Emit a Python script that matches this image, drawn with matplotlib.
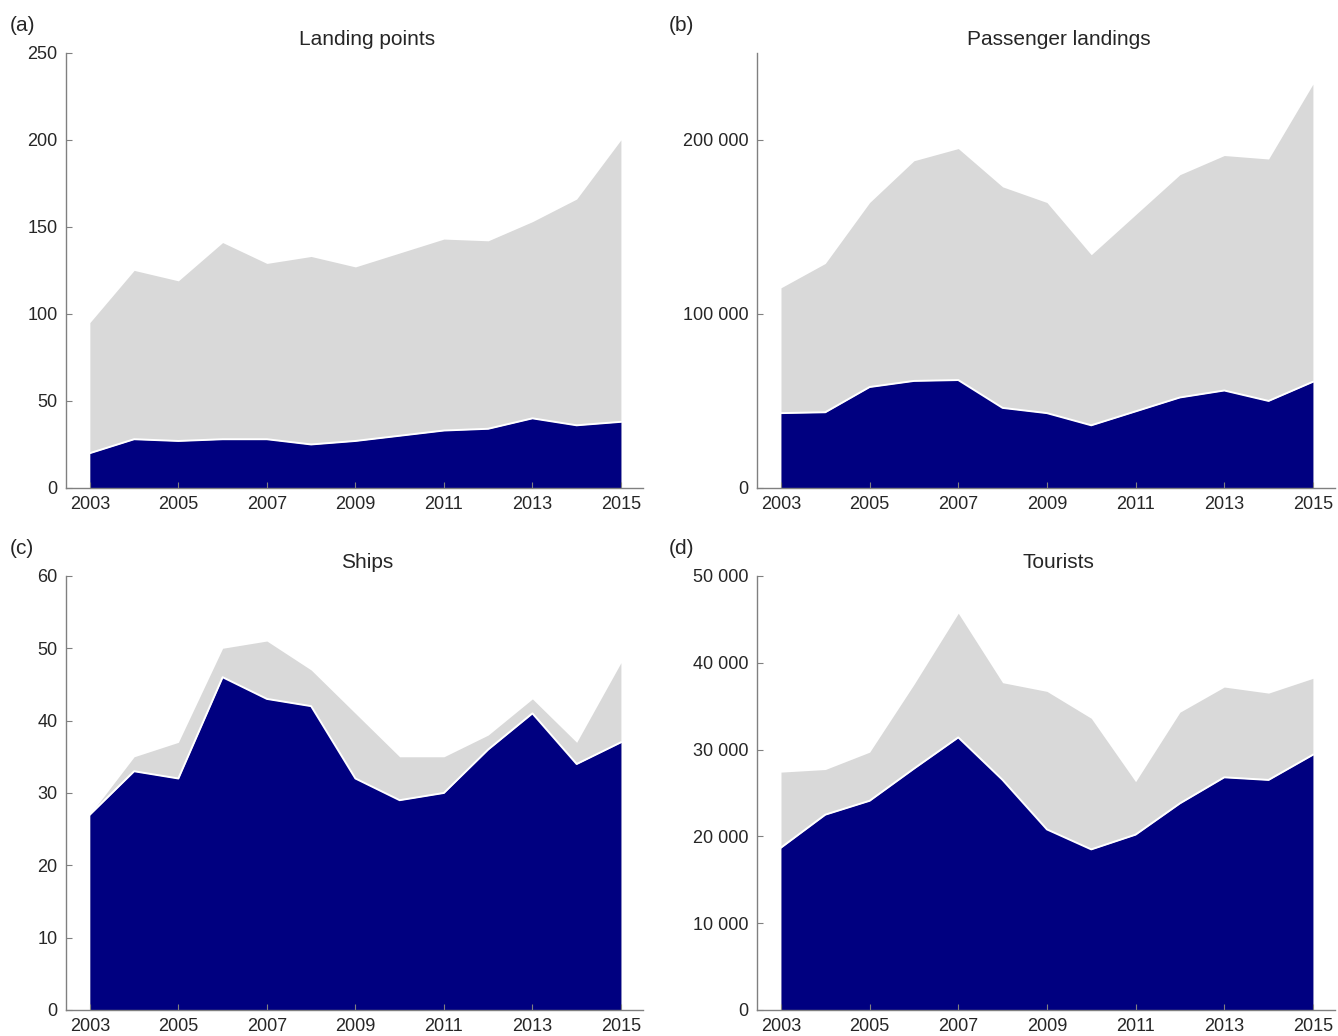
import matplotlib
matplotlib.use('Agg')
from matplotlib import pyplot as plt
from matplotlib.ticker import FuncFormatter

years = list(range(2003, 2016))

# (a) landing points
landing_total = [95, 125, 119, 141, 129, 133, 127, 135, 143, 142, 153, 166, 200]
landing_part = [20, 28, 27, 28, 28, 25, 27, 30, 33, 34, 40, 36, 38]

# (b) passenger landings
passenger_total = [115000, 129000, 164000, 188000, 195000, 173000, 164000,
                   134000, 157000, 180000, 191000, 189000, 232000]
passenger_part = [43000, 43500, 58000, 61500, 62000, 46000, 43000,
                  36000, 44000, 52000, 56000, 50000, 61000]

# (c) ships
ships_total = [27, 35, 37, 50, 51, 47, 41, 35, 35, 38, 43, 37, 48]
ships_part = [27, 33, 32, 46, 43, 42, 32, 29, 30, 36, 41, 34, 37]

# (d) tourists
tourists_total = [27400, 27700, 29700, 37500, 45700, 37700, 36700,
                  33600, 26300, 34300, 37200, 36500, 38200]
tourists_part = [18700, 22500, 24100, 27800, 31400, 26500, 20800,
                 18500, 20200, 23800, 26800, 26500, 29400]

panels = [
    ('(a)', 'Landing points', landing_total, landing_part, 250, [0, 50, 100, 150, 200, 250]),
    ('(b)', 'Passenger landings', passenger_total, passenger_part, 250000, [0, 100000, 200000]),
    ('(c)', 'Ships', ships_total, ships_part, 60, [0, 10, 20, 30, 40, 50, 60]),
    ('(d)', 'Tourists', tourists_total, tourists_part, 50000, [0, 10000, 20000, 30000, 40000, 50000]),
]

NAVY = '#000080'
GREY = '#d9d9d9'
AXIS = '#808080'
TEXT = '#262626'

plt.rcParams['font.family'] = ['Liberation Sans', 'DejaVu Sans']

fig = plt.figure(figsize=(13.38, 10.36), dpi=100)

positions = [
    (0.0493, 0.529, 0.4313, 0.420),
    (0.5658, 0.529, 0.4320, 0.420),
    (0.0493, 0.0251, 0.4313, 0.419),
    (0.5658, 0.0251, 0.4320, 0.419),
]
label_pos = [(0.007, 0.966), (0.5, 0.966), (0.007, 0.461), (0.5, 0.461)]


def thousands(v, pos):
    return f'{int(v):,}'.replace(',', ' ')


for (tag, title, total, part, ymax, yticks), rect, lp in zip(panels, positions, label_pos):
    ax = fig.add_axes(rect)
    ax.fill_between(years, total, color=GREY, linewidth=0)
    ax.fill_between(years, part, color=NAVY, linewidth=0)
    ax.plot(years, part, color='white', linewidth=1.4)

    ax.set_xlim(2002.46, 2015.5)
    ax.set_ylim(0, ymax)
    ax.set_xticks(list(range(2003, 2016, 2)))
    ax.set_yticks(yticks)
    ax.yaxis.set_major_formatter(FuncFormatter(thousands))

    for side in ('top', 'right'):
        ax.spines[side].set_visible(False)
    for side in ('left', 'bottom'):
        ax.spines[side].set_color(AXIS)
        ax.spines[side].set_linewidth(1.0)
    ax.tick_params(direction='in', length=4, color=AXIS, labelcolor=TEXT,
                   labelsize=13, pad=6)

    ax.text(0.522, 1.008, title, transform=ax.transAxes, ha='center', va='bottom',
            fontsize=15, color=TEXT)
    fig.text(lp[0], lp[1], tag, fontsize=15, color=TEXT, ha='left', va='bottom')

fig.savefig('out.png', dpi=100)
